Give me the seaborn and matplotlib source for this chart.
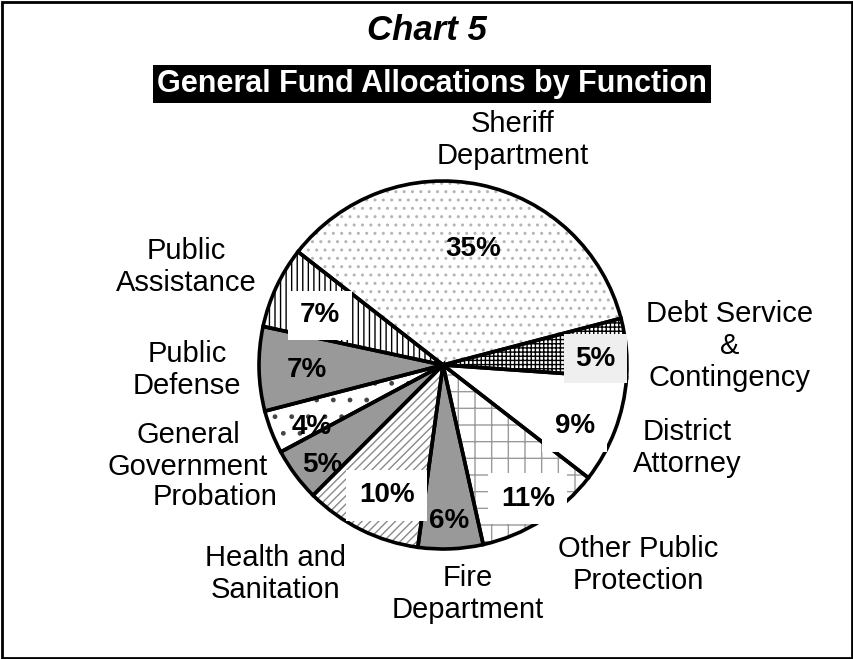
import matplotlib
matplotlib.use("Agg")
import matplotlib.pyplot as plt
import seaborn as sns
import numpy as np
from matplotlib.patches import Rectangle

# slices, counter-clockwise starting just below 3 o'clock
categories = ["Debt Service\n&\nContingency", "Sheriff\nDepartment", "Public\nAssistance",
              "Public\nDefense", "General\nGovernment", "Probation", "Health and\nSanitation",
              "Fire\nDepartment", "Other Public\nProtection", "District\nAttorney"]
shares = [5.2, 35.4, 7.2, 7.4, 3.8, 4.7, 10.3, 5.7, 11.0, 9.4]
pct_labels = ["5%", "35%", "7%", "7%", "4%", "5%", "10%", "6%", "11%", "9%"]

# styling (b/w print look)
grey = "#999999"
fills = ["white", "white", "white", grey, "white", grey, "white", grey, "white", "white"]
hatches = ["++++", "..", "|||", "", ".", "", "////", "", "+", ""]
hatch_cols = ["black", "#b5b5b5", "black", "none", "#444444", "none", "#8a8a8a", "none", "#9a9a9a", "none"]
pct_r = [0.83, 0.65, 0.72, 0.74, 0.79, 0.85, 0.77, 0.85, 0.86, 0.79]
pct_shift = [-3, -3, 3, 1, 4, 3, 3, 0, 0, -4]
pct_box = [("#efefef", 0.42), None, ("white", 0.42), None, None, None,
           ("white", 0.45), None, ("white", 0.45), ("white", 0.45)]
label_xy = [(730, 346), (513, 140), (186, 267), (187, 370), (188, 451), (215, 497),
            (276, 574), (468, 594), (638, 565), (687, 448)]

sns.set_theme(style="white")
plt.rcParams["font.family"] = ["Liberation Sans", "DejaVu Sans"]
plt.rcParams["text.color"] = "black"
plt.rcParams["hatch.linewidth"] = 1.0

W, H = 854, 659
fig = plt.figure(figsize=(W / 100, H / 100), dpi=100)
ax = fig.add_axes([0, 0, 1, 1])

cx, cy, R = 443, H - 365, 184
wedges, _ = ax.pie(shares, startangle=-4, counterclock=True, center=(cx, cy), radius=R,
                   colors=fills, wedgeprops=dict(linewidth=0))
for w, h, hc in zip(wedges, hatches, hatch_cols):
    w.set_hatch(h)
    w.set_edgecolor(hc)
# outlines on top
ax.pie(shares, startangle=-4, counterclock=True, center=(cx, cy), radius=R,
       wedgeprops=dict(fill=False, edgecolor="black", linewidth=2.6))

for w, lab, r, sh, box in zip(wedges, pct_labels, pct_r, pct_shift, pct_box):
    ang = np.deg2rad((w.theta1 + w.theta2) / 2 + sh)
    x = cx + r * R * np.cos(ang)
    y = cy + r * R * np.sin(ang)
    kw = {}
    if box:
        kw["bbox"] = dict(boxstyle=f"square,pad={box[1]}", facecolor=box[0], edgecolor="none")
    ax.text(x, y, lab, ha="center", va="center", fontsize=20, fontweight="bold", zorder=5, **kw)

for lab, (x, y) in zip(categories, label_xy):
    ax.text(x, H - y, lab, ha="center", va="center", fontsize=21, linespacing=1.2)

ax.set_xlim(0, W)
ax.set_ylim(0, H)
ax.set_aspect("equal")
ax.axis("off")

fig.text(427 / W, 1 - 30 / H, "Chart 5", ha="center", va="center", fontsize=25,
         fontweight="bold", fontstyle="italic")
fig.text(432 / W, 1 - 84 / H, "General Fund Allocations by Function", ha="center", va="center",
         fontsize=22, fontweight="bold", color="white",
         bbox=dict(boxstyle="square,pad=0.12", facecolor="black", edgecolor="none"))
fig.patches.append(Rectangle((0.002, 0.002), 0.996, 0.995, transform=fig.transFigure,
                             fill=False, edgecolor="black", linewidth=2))

fig.savefig("out.png", dpi=100)
